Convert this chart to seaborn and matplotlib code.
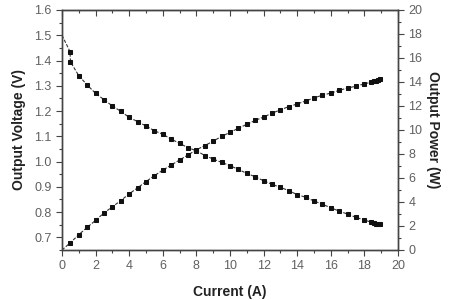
import matplotlib
matplotlib.use("Agg")
import matplotlib.pyplot as plt
from matplotlib.ticker import MultipleLocator
import seaborn as sns
import pandas as pd

current_v = [0, 0.48, 0.5, 1.0, 1.5, 2.0, 2.5, 3.0, 3.5, 4.0, 4.5, 5.0, 5.5, 6.0, 6.5, 7.0,
             7.5, 8.0, 8.5, 9.0, 9.5, 10.0, 10.5, 11.0, 11.5, 12.0, 12.5, 13.0, 13.5, 14.0,
             14.5, 15.0, 15.5, 16.0, 16.5, 17.0, 17.5, 18.0, 18.4, 18.6, 18.7, 18.8, 18.9]
voltage = [1.50, 1.435, 1.395, 1.34, 1.303, 1.27, 1.245, 1.22, 1.199, 1.175, 1.158, 1.141,
           1.122, 1.108, 1.089, 1.072, 1.055, 1.043, 1.024, 1.01, 0.997, 0.984, 0.969, 0.953,
           0.94, 0.924, 0.91, 0.898, 0.885, 0.869, 0.859, 0.844, 0.831, 0.817, 0.804, 0.792,
           0.779, 0.769, 0.76, 0.756, 0.754, 0.753, 0.752]

current_p = [0, 0.5, 1.0, 1.5, 2.0, 2.5, 3.0, 3.5, 4.0, 4.5, 5.0, 5.5, 6.0, 6.5, 7.0, 7.5,
             8.0, 8.5, 9.0, 9.5, 10.0, 10.5, 11.0, 11.5, 12.0, 12.5, 13.0, 13.5, 14.0, 14.5,
             15.0, 15.5, 16.0, 16.5, 17.0, 17.5, 18.0, 18.4, 18.6, 18.7, 18.8, 18.9]
power = [0, 0.61, 1.28, 1.89, 2.47, 3.09, 3.6, 4.12, 4.68, 5.18, 5.7, 6.2, 6.65, 7.08, 7.5,
         7.92, 8.35, 8.7, 9.07, 9.47, 9.8, 10.15, 10.47, 10.8, 11.08, 11.4, 11.68, 11.95,
         12.17, 12.42, 12.67, 12.9, 13.08, 13.3, 13.5, 13.65, 13.85, 13.98, 14.05, 14.1,
         14.18, 14.25]

x_label = "Current (A)"
y_left_label = "Output Voltage (V)"
y_right_label = "Output Power (W)"
left_ticks = [0.7, 0.8, 0.9, 1.0, 1.1, 1.2, 1.3, 1.4, 1.5, 1.6]
left_ticklabels = ["0.7", "0.8", "0.9", "1.0", "1.1", "1.2", "1.3", "1.4", "1.5", "1.6"]

sns.set_style("white")
plt.rcParams['font.family'] = ['Liberation Sans', 'DejaVu Sans']

df_v = pd.DataFrame({"I": current_v, "V": voltage})
df_p = pd.DataFrame({"I": current_p, "P": power})

fig = plt.figure(figsize=(4.5, 3), dpi=100)
ax = fig.add_axes([62/450, 1-250/300, (398-62)/450, (250-10)/300])
ax2 = ax.twinx()

mk = dict(marker="s", markersize=3.4, markerfacecolor="#111111", markeredgecolor="#111111",
          color="#333333", linewidth=0.8, linestyle=(0, (3, 1.5)))
sns.lineplot(data=df_v, x="I", y="V", ax=ax, markevery=list(range(1, len(current_v))), **mk)
sns.lineplot(data=df_p, x="I", y="P", ax=ax2, markevery=list(range(1, len(current_p))), **mk)

ax.set_xlim(0, 20)
ax.set_ylim(0.65, 1.6)
ax2.set_ylim(0, 20)
ax.xaxis.set_major_locator(MultipleLocator(2))
ax.xaxis.set_minor_locator(MultipleLocator(1))
ax.set_yticks(left_ticks)
ax.set_yticklabels(left_ticklabels)
ax.yaxis.set_minor_locator(MultipleLocator(0.05))
ax2.yaxis.set_major_locator(MultipleLocator(2))
ax2.yaxis.set_minor_locator(MultipleLocator(1))

tick_col = "#606060"
edge = "#444444"
for a in (ax, ax2):
    for s in a.spines.values():
        s.set_color(edge)
        s.set_linewidth(1.0)

common = dict(labelsize=9, labelcolor=tick_col, color=edge, direction="out")
ax.tick_params(axis="x", which="both", bottom=True, top=False, **common)
ax.tick_params(axis="y", which="both", left=True, **common)
ax2.tick_params(axis="y", which="both", right=True, **common)
for a, axis in ((ax, "x"), (ax, "y"), (ax2, "y")):
    a.tick_params(axis=axis, which="major", length=4, width=0.8)
    a.tick_params(axis=axis, which="minor", length=2.5, width=0.8)

top = ax.secondary_xaxis("top")
top.xaxis.set_major_locator(MultipleLocator(2))
top.xaxis.set_minor_locator(MultipleLocator(1))
top.tick_params(axis="x", which="both", direction="in", labeltop=False, color=edge, width=0.8)
top.tick_params(axis="x", which="major", length=4)
top.tick_params(axis="x", which="minor", length=2.5)
top.spines["top"].set_color(edge)

ax.set_xlabel(x_label, fontsize=10, fontweight="bold", color="#222222", labelpad=9)
ax.set_ylabel(y_left_label, fontsize=10, fontweight="bold", color="#222222", labelpad=6)
ax2.set_ylabel(y_right_label, fontsize=10, fontweight="bold", color="#222222",
               rotation=-90, labelpad=13)

fig.savefig("out.png", dpi=100)
